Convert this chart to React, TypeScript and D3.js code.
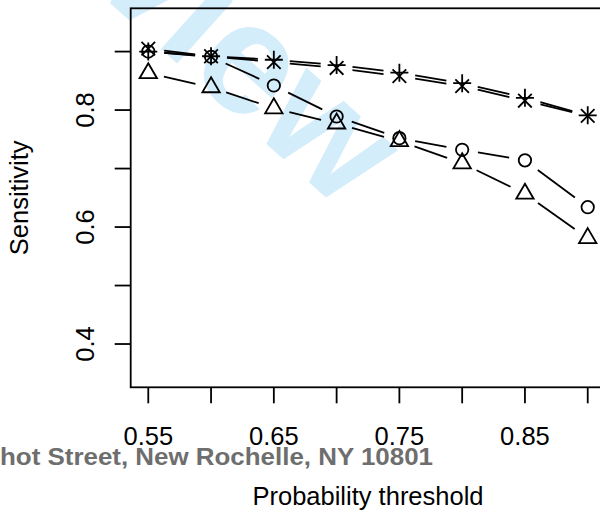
import React, { useEffect, useRef } from 'react';
import * as d3 from 'd3';

const thresholds = [0.55, 0.6, 0.65, 0.7, 0.75, 0.8, 0.85, 0.9];
const circleSens = [0.900, 0.891, 0.842, 0.789, 0.752, 0.732, 0.714, 0.634];
const triangleSens = [0.863, 0.839, 0.803, 0.777, 0.747, 0.709, 0.657, 0.581];
const plusSens = [0.900, 0.892, 0.886, 0.877, 0.864, 0.846, 0.821, 0.791];
const crossSens = [0.905, 0.892, 0.882, 0.872, 0.858, 0.841, 0.816, 0.790];

const xTicks = [0.55, 0.6, 0.65, 0.7, 0.75, 0.8, 0.85, 0.9];
const xTickLabels = ['0.55', '', '0.65', '', '0.75', '', '0.85', ''];
const yTicks = [0.4, 0.5, 0.6, 0.7, 0.8, 0.9];
const yTickLabels = ['0.4', '', '0.6', '', '0.8', ''];

const FONT = "'Liberation Sans', Arial, Helvetica, sans-serif";

const App = () => {
  const ref = useRef<SVGSVGElement>(null);

  useEffect(() => {
    const width = 600;
    const height = 513;
    const svg = d3.select(ref.current);
    svg.selectAll('*').remove();
    svg.attr('width', width).attr('height', height);

    // watermark
    svg.append('text')
      .attr('transform', 'translate(342,212) rotate(42)')
      .attr('text-anchor', 'end')
      .style('font-family', FONT)
      .style('font-weight', 'bold')
      .style('font-size', '158px')
      .style('fill', '#d3edfb')
      .text('Review');

    const x = d3.scaleLinear().domain([0.536, 0.914]).range([130.7, 605.3]);
    const y = d3.scaleLinear().domain([0.326, 0.974]).range([387.3, 8.3]);

    const stroke = '#000';
    const lw = 1.8;

    // box
    svg.append('rect')
      .attr('x', x(0.536)).attr('y', y(0.974))
      .attr('width', x(0.914) - x(0.536)).attr('height', y(0.326) - y(0.974))
      .style('fill', 'none').style('stroke', stroke).style('stroke-width', lw);

    // x axis
    const gx = svg.append('g');
    xTicks.forEach((t, i) => {
      gx.append('line')
        .attr('x1', x(t)).attr('x2', x(t))
        .attr('y1', y(0.326)).attr('y2', y(0.326) + 16)
        .style('stroke', stroke).style('stroke-width', lw);
      if (xTickLabels[i]) {
        gx.append('text')
          .attr('x', x(t)).attr('y', 445)
          .attr('text-anchor', 'middle')
          .style('font-family', FONT).style('font-size', '25.5px')
          .text(xTickLabels[i]);
      }
    });

    // y axis
    const gy = svg.append('g');
    yTicks.forEach((t, i) => {
      gy.append('line')
        .attr('x1', x(0.536) - 16).attr('x2', x(0.536))
        .attr('y1', y(t)).attr('y2', y(t))
        .style('stroke', stroke).style('stroke-width', lw);
      if (yTickLabels[i]) {
        gy.append('text')
          .attr('transform', `translate(94,${y(t)}) rotate(-90)`)
          .attr('text-anchor', 'middle')
          .style('font-family', FONT).style('font-size', '25.5px')
          .text(yTickLabels[i]);
      }
    });

    // axis titles
    svg.append('text')
      .attr('x', 368).attr('y', 505)
      .attr('text-anchor', 'middle')
      .style('font-family', FONT).style('font-size', '25.5px')
      .text('Probability threshold');

    svg.append('text')
      .attr('transform', `translate(28,${(y(0.326) + y(0.974)) / 2}) rotate(-90)`)
      .attr('text-anchor', 'middle')
      .style('font-family', FONT).style('font-size', '25.5px')
      .text('Sensitivity');

    // footer
    svg.append('text')
      .attr('x', 0).attr('y', 465)
      .attr('textLength', 433)
      .attr('lengthAdjust', 'spacingAndGlyphs')
      .style('font-family', FONT).style('font-weight', 'bold')
      .style('font-size', '24px').style('fill', '#6e6e6e')
      .text('hot Street, New Rochelle, NY 10801');

    // series lines with gaps (type = "b")
    const gap = 16;
    const drawSeries = (vals: number[]) => {
      const pts = thresholds.map((t, i) => [x(t), y(vals[i])]);
      for (let i = 0; i < pts.length - 1; i++) {
        const [x0, y0] = pts[i];
        const [x1, y1] = pts[i + 1];
        const d = Math.hypot(x1 - x0, y1 - y0);
        if (d <= 2 * gap) continue;
        const ux = (x1 - x0) / d;
        const uy = (y1 - y0) / d;
        svg.append('line')
          .attr('x1', x0 + ux * gap).attr('y1', y0 + uy * gap)
          .attr('x2', x1 - ux * gap).attr('y2', y1 - uy * gap)
          .style('stroke', stroke).style('stroke-width', lw);
      }
      return pts;
    };

    const g = svg.append('g')
      .style('fill', 'none').style('stroke', stroke).style('stroke-width', lw);

    drawSeries(circleSens).forEach(([px, py]) => {
      g.append('circle').attr('cx', px).attr('cy', py).attr('r', 6.2);
    });

    drawSeries(triangleSens).forEach(([px, py]) => {
      const r = 10;
      const hx = 8.7;
      g.append('path')
        .attr('d', `M${px},${py - r}L${px + hx},${py + r / 2}L${px - hx},${py + r / 2}Z`);
    });

    drawSeries(plusSens).forEach(([px, py]) => {
      const h = 9;
      g.append('path')
        .attr('d', `M${px - h},${py}H${px + h}M${px},${py - h}V${py + h}`);
    });

    drawSeries(crossSens).forEach(([px, py]) => {
      const h = 6.8;
      g.append('path')
        .attr('d', `M${px - h},${py - h}L${px + h},${py + h}M${px - h},${py + h}L${px + h},${py - h}`);
    });
  }, []);

  return (
    <div>
      <svg ref={ref} style={{ position: 'absolute', left: 0, top: 0 }} />
    </div>
  );
};

export default App;
